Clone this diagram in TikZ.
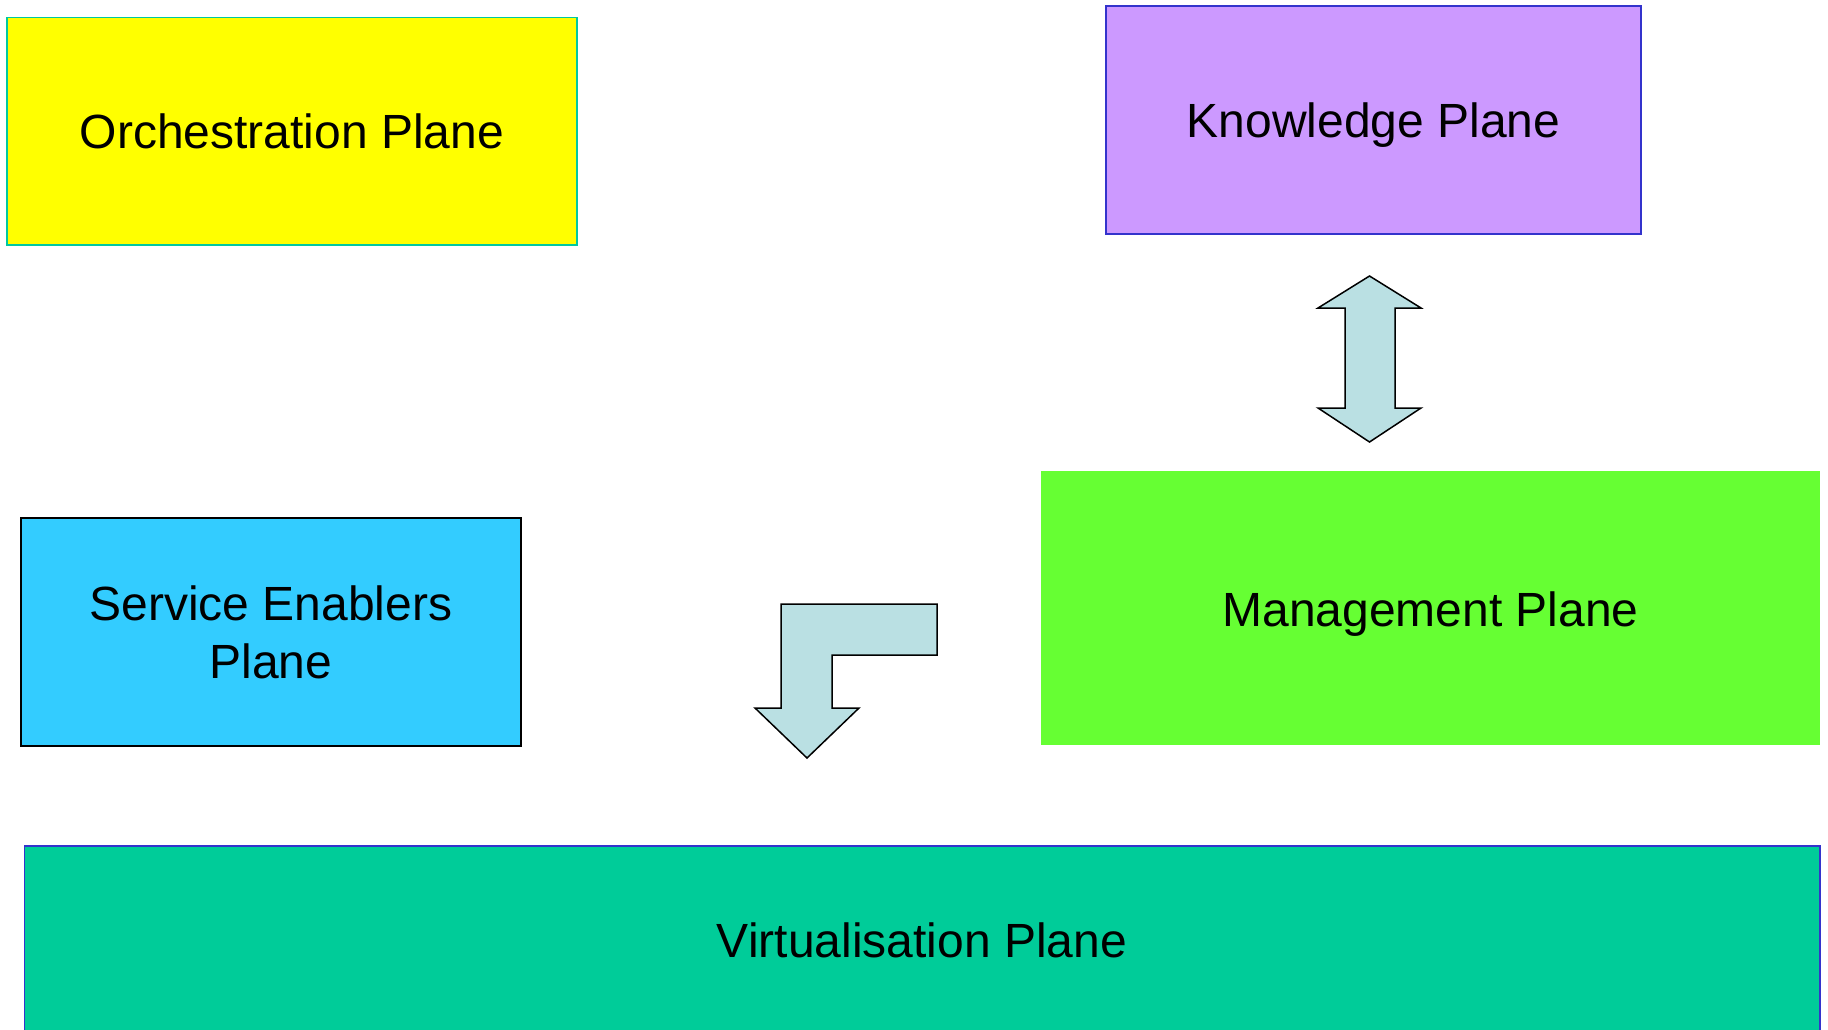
\documentclass[tikz,border=0pt]{standalone}
\usepackage{fontspec}
\setmainfont{Liberation Sans}
\definecolor{orchfill}{HTML}{FFFF00}
\definecolor{orchline}{HTML}{00C8A0}
\definecolor{knowfill}{HTML}{CC99FF}
\definecolor{blueline}{HTML}{3333CC}
\definecolor{servfill}{HTML}{33CCFF}
\definecolor{mgmtfill}{HTML}{66FF33}
\definecolor{virtfill}{HTML}{00CC99}
\definecolor{arrowfill}{HTML}{BAE0E3}
\tikzset{
  plane/.style={rectangle, inner sep=0pt, outer sep=0pt, line width=1.5pt, align=center,
    font=\fontsize{48}{58}\selectfont, text=black},
  blockarrow/.style={fill=arrowfill, draw=black, line width=1.5pt, line join=miter}
}
\begin{document}
\begin{tikzpicture}[x=1pt,y=-1pt]
\useasboundingbox (0,0) rectangle (1828,1029);
\fill[white] (0,0) rectangle (1828,1029);
\begin{scope}
\clip (0,0) rectangle (1828,1029);
\node[plane, fill=orchfill, draw=orchline, minimum width=570pt, minimum height=227.5pt] (orch) at (292,131) {Orchestration Plane};
\node[plane, fill=knowfill, draw=blueline, minimum width=535pt, minimum height=228pt] (know) at (1373.5,120) {\raisebox{-5pt}[\height][\depth]{Knowledge Plane}};
\node[plane, fill=servfill, draw=black, minimum width=500pt, minimum height=228pt] (serv) at (271,632) {Service Enablers\\Plane};
\node[plane, fill=mgmtfill, minimum width=779pt, minimum height=274pt] (mgmt) at (1430.5,608) {\raisebox{-6pt}[\height][\depth]{Management Plane}};
\node[plane, fill=virtfill, draw=blueline, minimum width=1795.5pt, minimum height=188pt] (virt) at (922,940) {Virtualisation Plane};
\end{scope}
% double-headed block arrow between Knowledge and Management
\draw[blockarrow] (1369.5,276) -- (1421,308) -- (1395,308) -- (1395,408) -- (1421,408)
  -- (1369.5,442) -- (1318,408) -- (1345,408) -- (1345,308) -- (1318,308) -- cycle;
% bent block arrow
\draw[blockarrow] (781,604) -- (937,604) -- (937,655) -- (832,655) -- (832,708) -- (859,708)
  -- (807,758) -- (755,708) -- (781,708) -- cycle;
\end{tikzpicture}
\end{document}
